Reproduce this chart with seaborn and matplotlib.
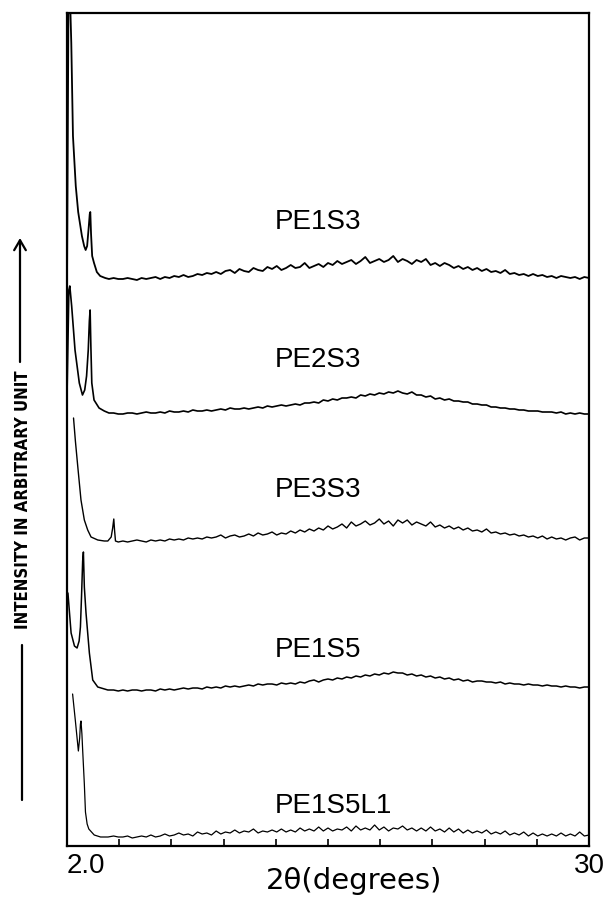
import numpy as np
import pandas as pd
import matplotlib
matplotlib.use("Agg")
import matplotlib.pyplot as plt
import seaborn as sns

sns.set_theme(style="ticks")
plt.rcParams['font.family'] = ['Liberation Sans', 'DejaVu Sans']
plt.rcParams['text.color'] = 'black'
plt.rcParams['axes.labelcolor'] = 'black'
plt.rcParams['xtick.color'] = 'black'
plt.rcParams['ytick.color'] = 'black'

# ---------------- data ----------------
sample_names = ["PE1S3", "PE2S3", "PE3S3", "PE1S5", "PE1S5L1"]

# common 2-theta sampling of the broad (amorphous) part of every pattern
baseline_2theta = [
    5.0, 5.25, 5.5, 5.75, 6.0, 6.25, 6.5, 6.75, 7.0, 7.25, 7.5, 7.75,
    8.0, 8.25, 8.5, 8.75, 9.0, 9.25, 9.5, 9.75, 10.0, 10.25, 10.5, 10.75,
    11.0, 11.25, 11.5, 11.75, 12.0, 12.25, 12.5, 12.75, 13.0, 13.25, 13.5, 13.75,
    14.0, 14.25, 14.5, 14.75, 15.0, 15.25, 15.5, 15.75, 16.0, 16.25, 16.5, 16.75,
    17.0, 17.25, 17.5, 17.75, 18.0, 18.25, 18.5, 18.75, 19.0, 19.25, 19.5, 19.75,
    20.0, 20.25, 20.5, 20.75, 21.0, 21.25, 21.5, 21.75, 22.0, 22.25, 22.5, 22.75,
    23.0, 23.25, 23.5, 23.75, 24.0, 24.25, 24.5, 24.75, 25.0, 25.25, 25.5, 25.75,
    26.0, 26.25, 26.5, 26.75, 27.0, 27.25, 27.5, 27.75, 28.0, 28.25, 28.5, 28.75,
    29.0, 29.25, 29.5, 29.75, 30.0]

# PE1S3
pe1s3_low_2theta = [2.0, 2.08, 2.16, 2.23, 2.32, 2.47, 2.60, 2.80, 2.92, 3.00, 3.08,
                    3.17, 3.22, 3.25, 3.29, 3.35, 3.45, 3.60, 3.78, 4.05, 4.25, 4.5, 4.75]
pe1s3_low_int = [560, 850, 850, 803, 710, 660, 634, 610, 600, 596, 600,
                 620, 632, 634, 612, 590, 583, 574, 570, 568, 567, 568, 567]
pe1s3_base_int = [
    567, 568, 567, 566, 568, 567, 568, 569, 567, 569, 568, 570,
    569, 571, 569, 570, 572, 571, 573, 572, 574, 572, 575, 576,
    573, 577, 575, 574, 578, 576, 575, 579, 577, 580, 576, 578,
    581, 578, 579, 583, 578, 580, 582, 579, 583, 581, 585, 582,
    584, 586, 582, 585, 589, 583, 585, 587, 584, 586, 590, 584,
    587, 585, 582, 586, 584, 587, 581, 583, 580, 583, 581, 578,
    580, 577, 579, 576, 578, 575, 577, 574, 575, 573, 576, 572,
    573, 571, 572, 570, 572, 570, 571, 569, 570, 568, 570, 569,
    568, 569, 567, 569, 568]

# PE2S3
pe2s3_low_2theta = [2.0, 2.1, 2.15, 2.25, 2.43, 2.66, 2.83, 2.95, 3.05, 3.14,
                    3.20, 3.24, 3.28, 3.33, 3.45, 3.72, 4.0, 4.25, 4.5, 4.75]
pe2s3_low_int = [450, 556, 560, 540, 496, 463, 451, 456, 470, 496,
                 525, 536, 500, 463, 446, 438, 435, 433, 433, 432]
pe2s3_base_int = [
    432, 433, 433, 432, 433, 434, 433, 433, 434, 433, 435, 434,
    434, 435, 434, 436, 435, 435, 436, 435, 436, 437, 436, 438,
    437, 437, 438, 437, 438, 439, 438, 440, 439, 440, 441, 440,
    441, 442, 441, 443, 443, 444, 443, 446, 445, 447, 446, 448,
    448, 449, 448, 451, 450, 452, 451, 453, 452, 454, 453, 455,
    453, 452, 454, 451, 451, 449, 450, 447, 448, 446, 447, 445,
    445, 444, 444, 442, 442, 441, 441, 439, 439, 438, 438, 437,
    437, 436, 436, 435, 435, 435, 434, 434, 434, 433, 434, 432,
    433, 432, 433, 432, 432]

# PE3S3
pe3s3_low_2theta = [2.35, 2.45, 2.58, 2.75, 2.93, 3.11, 3.29, 3.65, 4.0, 4.19,
                    4.37, 4.45, 4.51, 4.55, 4.60, 4.75]
pe3s3_low_int = [428, 405, 379, 346, 326, 316, 309, 306, 305, 305,
                 309, 318, 327, 316, 305, 304]
pe3s3_base_int = [
    305, 304, 305, 306, 305, 304, 306, 305, 306, 305, 307, 306,
    307, 306, 308, 307, 308, 307, 309, 308, 309, 311, 308, 310,
    311, 309, 310, 312, 310, 313, 311, 312, 314, 311, 313, 312,
    315, 313, 316, 314, 317, 315, 318, 316, 320, 317, 319, 322,
    318, 324, 320, 322, 325, 321, 323, 327, 322, 325, 320, 326,
    323, 326, 321, 324, 322, 320, 324, 319, 321, 318, 320, 317,
    319, 316, 318, 315, 316, 314, 317, 313, 314, 312, 313, 311,
    312, 310, 311, 309, 310, 308, 310, 307, 309, 307, 308, 306,
    308, 309, 306, 308, 308]

# PE1S5
pe1s5_low_2theta = [2.0, 2.05, 2.22, 2.40, 2.54, 2.65, 2.72, 2.78, 2.84, 2.88,
                    2.93, 3.02, 3.20, 3.38, 3.65, 4.19, 4.5, 4.75]
pe1s5_low_int = [240, 253, 213, 200, 198, 205, 219, 250, 285, 294,
                 259, 233, 193, 166, 159, 156, 156, 155]
pe1s5_base_int = [
    156, 155, 156, 156, 155, 156, 156, 155, 157, 156, 157, 156,
    157, 158, 157, 158, 158, 157, 159, 158, 159, 158, 160, 159,
    160, 159, 160, 161, 160, 162, 161, 162, 162, 161, 163, 162,
    163, 162, 164, 163, 165, 166, 164, 166, 167, 166, 168, 167,
    169, 168, 170, 169, 171, 170, 172, 171, 173, 172, 174, 173,
    173, 171, 172, 170, 171, 169, 170, 168, 169, 167, 168, 166,
    167, 165, 166, 164, 165, 165, 164, 164, 163, 164, 162, 163,
    162, 162, 161, 162, 161, 161, 160, 161, 160, 160, 159, 160,
    159, 159, 158, 159, 159]

# PE1S5L1
pe1s5l1_low_2theta = [2.30, 2.45, 2.61, 2.68, 2.72, 2.75, 2.80, 2.84, 2.93, 2.99,
                      3.08, 3.17, 3.46, 3.8, 4.2, 4.5, 4.75]
pe1s5l1_low_int = [152, 125, 95, 108, 122, 125, 112, 96, 62, 34,
                   22, 17, 11, 9, 9, 10, 9]
pe1s5l1_base_int = [
    9, 10, 8, 9, 10, 9, 11, 9, 10, 12, 10, 11,
    13, 11, 12, 10, 14, 12, 13, 11, 15, 12, 14, 13,
    16, 13, 15, 14, 17, 13, 15, 14, 16, 14, 17, 14,
    16, 14, 18, 15, 17, 15, 19, 15, 18, 15, 17, 16,
    19, 15, 20, 16, 18, 16, 21, 16, 19, 15, 18, 17,
    20, 16, 18, 15, 18, 15, 19, 15, 17, 14, 18, 14,
    17, 13, 16, 13, 15, 13, 16, 12, 14, 12, 15, 11,
    13, 11, 14, 10, 13, 10, 12, 10, 12, 10, 13, 10,
    12, 10, 14, 10, 11]

label_2theta = 13.15
label_int = [624, 486, 356, 196, 40]

x_tick_values = [2.0, 4.8, 7.6, 10.4, 13.2, 16.0, 18.8, 21.6, 24.4, 27.2, 30.0]
x_tick_labels = ["2.0", "", "", "", "", "", "", "", "", "", "30"]

# ---------------- tidy table ----------------
low_x = [pe1s3_low_2theta, pe2s3_low_2theta, pe3s3_low_2theta, pe1s5_low_2theta, pe1s5l1_low_2theta]
low_i = [pe1s3_low_int, pe2s3_low_int, pe3s3_low_int, pe1s5_low_int, pe1s5l1_low_int]
base_i = [pe1s3_base_int, pe2s3_base_int, pe3s3_base_int, pe1s5_base_int, pe1s5l1_base_int]
frames = []
for name, lx, li, bi in zip(sample_names, low_x, low_i, base_i):
    frames.append(pd.DataFrame({"two_theta": lx + baseline_2theta,
                                "intensity": li + bi,
                                "sample": name}))
df = pd.concat(frames, ignore_index=True)

# ---------------- figure ----------------
W, H = 604, 901
fig = plt.figure(figsize=(W / 100, H / 100), dpi=100)
L, R, T, B = 67, 589, 13, 846
ax = fig.add_axes([L / W, 1 - B / H, (R - L) / W, (B - T) / H])

line_widths = {"PE1S3": 1.3, "PE2S3": 1.2, "PE3S3": 1.0, "PE1S5": 1.1, "PE1S5L1": 0.9}
for name in sample_names:
    sub = df[df["sample"] == name]
    sns.lineplot(data=sub, x="two_theta", y="intensity", color="black",
                 lw=line_widths[name], estimator=None, sort=False, ax=ax,
                 legend=False)

for name, yi in zip(sample_names, label_int):
    ax.text(label_2theta, yi, name, ha="left", va="center", fontsize=20,
            color="black")

ax.set_xlim(2.0, 30.0)
ax.set_ylim(0, B - T)
ax.set_yticks([])
ax.set_xticks(x_tick_values)
ax.set_xticklabels(x_tick_labels, fontsize=20, color="black")
ax.tick_params(axis="x", direction="in", length=5, width=1.2, pad=5,
               colors="black", top=False)
ax.get_xticklabels()[0].set_horizontalalignment("left")
for s in ax.spines.values():
    s.set_visible(True)
    s.set_linewidth(1.6)
    s.set_color("black")

ax.set_xlabel("2θ(degrees)", fontsize=21, family=["DejaVu Sans"], color="black")
ax.xaxis.set_label_coords(0.55, -0.025)
ax.xaxis.label.set_va("top")

ax.set_ylabel("INTENSITY IN ARBITRARY UNIT", fontsize=12, fontweight="bold",
              fontstretch="condensed", family=["DejaVu Sans"], color="black")
ax.yaxis.set_label_coords((23 - L) / (R - L), (B - 500) / (B - T))
ax.yaxis.label.set_va("center")

# arrow / line decoration beside the y label
ax.annotate("", xy=(20 / W, 1 - 238 / H), xytext=(20 / W, 1 - 362 / H),
            xycoords="figure fraction", textcoords="figure fraction",
            arrowprops=dict(arrowstyle="->,head_length=0.6,head_width=0.35",
                            lw=1.6, color="black", shrinkA=0, shrinkB=0))
ax.annotate("", xy=(22 / W, 1 - 800 / H), xytext=(22 / W, 1 - 645 / H),
            xycoords="figure fraction", textcoords="figure fraction",
            arrowprops=dict(arrowstyle="-", lw=1.6, color="black",
                            shrinkA=0, shrinkB=0))

fig.savefig("out.png", dpi=100)
